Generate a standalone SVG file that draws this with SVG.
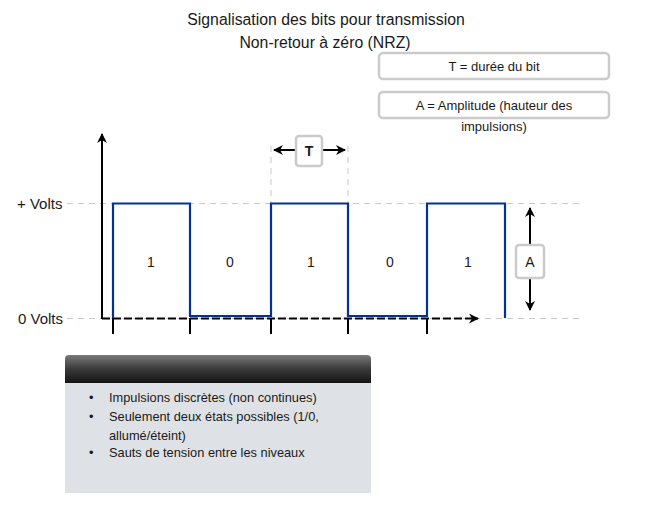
<svg xmlns="http://www.w3.org/2000/svg" width="651" height="509" viewBox="0 0 651 509">
<style>
text{font-family:"Liberation Sans",Arial,sans-serif;fill:#1a1a1a}
.t{font-size:14px;text-anchor:middle}
.h{font-size:15.8px;text-anchor:middle}
.v{font-size:15px}
.lbl{font-size:13px}
.c{text-anchor:middle}
.guide{stroke:#c8c8c8;stroke-width:1;stroke-dasharray:6,5;fill:none}
.sig{stroke:#003399;stroke-width:2.2;fill:none}
.ax{stroke:#000;stroke-width:2;fill:none}
.box{fill:#fff;stroke:#cbcbcb;stroke-width:2.5}
.tick{stroke:#000;stroke-width:2}
.bul{font-size:12.8px}
</style>
<defs>
<marker id="ah" viewBox="0 0 10 10" refX="9" refY="5" markerWidth="10" markerHeight="10" markerUnits="userSpaceOnUse" orient="auto">
<path d="M0,0 L10,5 L0,10 L3,5 Z" fill="#000"/>
</marker>
<linearGradient id="hdr" x1="0" y1="0" x2="0" y2="1">
<stop offset="0" stop-color="#7a7a7a"/>
<stop offset="0.5" stop-color="#3a3a3a"/>
<stop offset="1" stop-color="#141414"/>
</linearGradient>
</defs>

<g id="title">
<text class="h" x="326" y="25">Signalisation des bits pour transmission</text>
<text class="h" x="325" y="48">Non-retour à zéro (NRZ)</text>
</g>

<g id="legend-T">
<rect class="box" x="379" y="53" width="230" height="26" rx="4"/>
<text class="lbl c" x="494" y="71">T = durée du bit</text>
</g>
<g id="legend-A">
<rect class="box" x="379" y="92" width="230" height="26" rx="4"/>
<text class="lbl c" x="494" y="110">A = Amplitude (hauteur des</text>
<text class="lbl c" x="494" y="131">impulsions)</text>
</g>

<g id="levels">
<text class="v" x="17" y="209">+ Volts</text>
<text class="v" x="18" y="324">0 Volts</text>
<path class="guide" d="M67,203.5 H580 M67,318.5 H580"/>
<path class="guide" d="M271,146 V203 M348,146 V203"/>
</g>

<g id="connectors">
<line class="ax" x1="102" y1="319" x2="102" y2="134" marker-end="url(#ah)"/>
<line x1="102" y1="318.5" x2="478" y2="318.5" stroke="#000" stroke-width="2" stroke-dasharray="8,3" marker-end="url(#ah)"/>
<path class="sig" d="M113,318 V203.5 H190 V316 H271 V203.5 H348 V316 H427 V203.5 H505 V318"/>
<path class="tick" d="M113,318 V334 M190,318 V334 M271,318 V334 M348,318 V334 M427,318 V334"/>
<line class="ax" x1="297" y1="150" x2="274" y2="150" marker-end="url(#ah)"/>
<line class="ax" x1="322" y1="150" x2="345" y2="150" marker-end="url(#ah)"/>
<line class="ax" x1="530" y1="245" x2="530" y2="208" marker-end="url(#ah)"/>
<line class="ax" x1="530" y1="278" x2="530" y2="310" marker-end="url(#ah)"/>
</g>

<g id="bits">
<text class="t" x="151" y="267">1</text>
<text class="t" x="230" y="267">0</text>
<text class="t" x="311" y="267">1</text>
<text class="t" x="390" y="267">0</text>
<text class="t" x="468" y="267">1</text>
</g>

<g id="T-box">
<rect class="box" x="296" y="136" width="26" height="30" rx="3"/>
<text x="309" y="156" style="font-size:14px;font-weight:bold;text-anchor:middle">T</text>
</g>
<g id="A-box">
<rect class="box" x="516" y="245" width="28" height="33" rx="3"/>
<text class="t" x="530" y="267">A</text>
</g>

<g id="panel">
<path d="M65,383 V359 Q65,355 69,355 H367 Q371,355 371,359 V383 Z" fill="url(#hdr)"/>
<rect x="65" y="383" width="306" height="110" fill="#dee2e7"/>
<text class="bul" x="89" y="402">•</text>
<text class="bul" x="109" y="402">Impulsions discrètes (non continues)</text>
<text class="bul" x="89" y="421">•</text>
<text class="bul" x="109" y="421">Seulement deux états possibles (1/0,</text>
<text class="bul" x="109" y="440">allumé/éteint)</text>
<text class="bul" x="89" y="457">•</text>
<text class="bul" x="109" y="457">Sauts de tension entre les niveaux</text>
</g>
</svg>
